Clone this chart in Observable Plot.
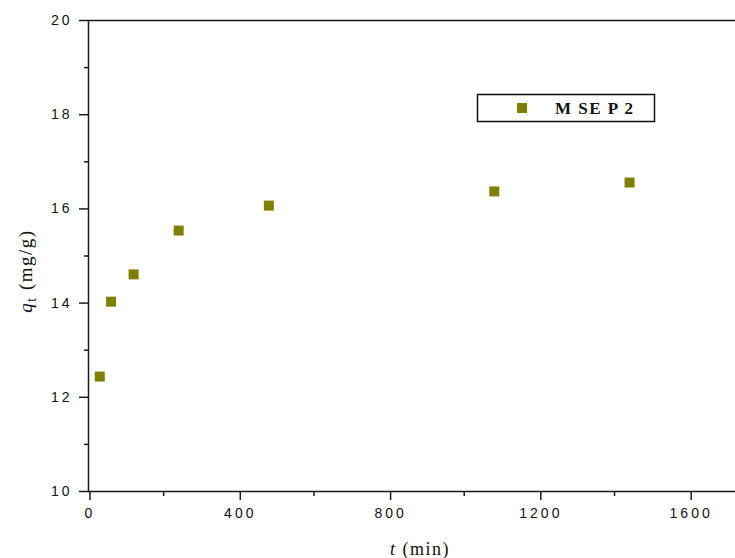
<!DOCTYPE html>
<html>
<head>
<meta charset="utf-8">
<script src="https://cdn.jsdelivr.net/npm/d3@7"></script>
<script src="https://cdn.jsdelivr.net/npm/@observablehq/plot@0.6"></script>
<style>
  html, body { margin: 0; padding: 0; background: #fff; }
  #chart svg { display: block; }
</style>
</head>
<body>
<div id="chart"></div>
<script>
// Data
const times = [30, 60, 120, 240, 480, 1080, 1440];          // t (min)
const qt = [12.44, 14.03, 14.61, 15.54, 16.07, 16.37, 16.56]; // q_t (mg/g)
const seriesName = "M SE P 2";
const xMajorTicks = [0, 400, 800, 1200, 1600];
const xMinorTicks = [200, 600, 1000, 1400];
const yMajorTicks = [10, 12, 14, 16, 18, 20];
const yMinorTicks = [11, 13, 15, 17, 19];

const data = times.map((t, i) => ({t, q: qt[i]}));
const olive = "#808000";
const axisColor = "#1a1a1a";
const fmt = d => String(d);

const plot = Plot.plot({
  width: 735,
  height: 558,
  marginLeft: 88,
  marginTop: 20,
  marginBottom: 67,
  marginRight: 0,
  x: {domain: [0, 1722]},
  y: {domain: [10, 20]},
  style: {fontFamily: "Arial, 'Liberation Sans', sans-serif", color: "#111", background: "#fff"},
  marks: [
    Plot.axisX({ticks: xMajorTicks, tickSize: 9, tickPadding: 8, fontSize: 14, tickFormat: fmt, strokeWidth: 1.5, stroke: axisColor, label: null, dx: 1.5}),
    Plot.axisX({ticks: xMinorTicks, tickSize: 5, tickFormat: () => "", strokeWidth: 1.5, stroke: axisColor, label: null}),
    Plot.axisY({ticks: yMajorTicks, tickSize: 9, tickPadding: 7, fontSize: 14, tickFormat: fmt, strokeWidth: 1.5, stroke: axisColor, label: null}),
    Plot.axisY({ticks: yMinorTicks, tickSize: 4, tickFormat: () => "", strokeWidth: 1.5, stroke: axisColor, label: null}),
    Plot.ruleY([10], {stroke: axisColor, strokeWidth: 1.5}),
    Plot.ruleY([20], {stroke: axisColor, strokeWidth: 1.5}),
    Plot.ruleX([0], {stroke: axisColor, strokeWidth: 1.5}),
    Plot.dot(data, {x: "t", y: "q", symbol: "square", r: 5.64, fill: olive, stroke: "none"})
  ]
});

const svg = d3.select(plot);
svg.selectAll('g[aria-label$="tick label"] text').attr("letter-spacing", "3px");

// X axis label: t (min)
const xl = svg.append("text")
  .attr("x", 420).attr("y", 555)
  .attr("text-anchor", "middle")
  .attr("font-family", "'Liberation Serif', 'Times New Roman', serif")
  .attr("font-size", 18)
  .attr("letter-spacing", "1.5px")
  .attr("fill", "#111");
xl.append("tspan").attr("font-style", "italic").text("t");
xl.append("tspan").text(" (min)");

// Y axis label: q_t (mg/g)
const yl = svg.append("text")
  .attr("transform", "translate(32,271) rotate(-90)")
  .attr("text-anchor", "middle")
  .attr("font-family", "'Liberation Serif', 'Times New Roman', serif")
  .attr("font-size", 19)
  .attr("letter-spacing", "1.5px")
  .attr("fill", "#111");
yl.append("tspan").attr("font-style", "italic").text("q");
yl.append("tspan").attr("font-size", 14).attr("dy", 4).text("t");
yl.append("tspan").attr("dy", -4).text(" (mg/g)");

// Legend
const lg = svg.append("g");
lg.append("rect")
  .attr("x", 477.5).attr("y", 94.5).attr("width", 177).attr("height", 27)
  .attr("fill", "#fff").attr("stroke", "#111").attr("stroke-width", 1.5);
lg.append("rect")
  .attr("x", 517).attr("y", 103).attr("width", 10).attr("height", 10)
  .attr("fill", olive);
lg.append("text")
  .attr("x", 555).attr("y", 114)
  .attr("text-anchor", "start")
  .attr("font-family", "'Liberation Serif', 'Times New Roman', serif")
  .attr("font-weight", "bold")
  .attr("font-size", 17)
  .attr("letter-spacing", "1.5px")
  .attr("fill", "#111")
  .text(seriesName);

document.getElementById("chart").appendChild(plot);
</script>
</body>
</html>
